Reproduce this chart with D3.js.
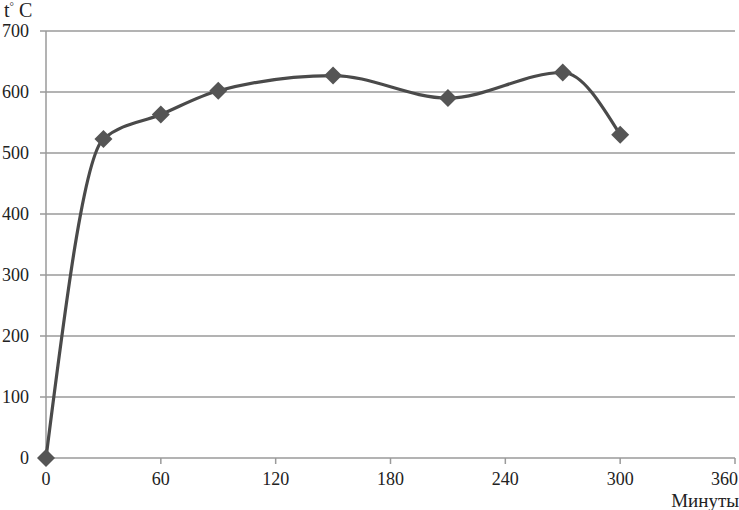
<!DOCTYPE html>
<html>
<head>
<meta charset="utf-8">
<script src="https://cdn.jsdelivr.net/npm/d3@7"></script>
<style>
  body { margin: 0; background: #fff; }
  svg { display: block; }
</style>
</head>
<body>
<div id="chart"></div>
<script>
// data
var minutes = [0, 30, 60, 90, 150, 210, 270, 300];
var temps = [0, 523, 563, 602, 627, 590, 632, 530];
var xTicks = [0, 60, 120, 180, 240, 300, 360];
var yTicks = [0, 100, 200, 300, 400, 500, 600, 700];

var width = 739, height = 510;
var margin = {left: 46, right: 4, top: 31, bottom: 52};

var svg = d3.select("#chart").append("svg")
  .attr("width", width)
  .attr("height", height)
  .attr("font-family", "'Liberation Serif', 'Times New Roman', serif")
  .attr("font-size", 18)
  .attr("fill", "#222");

var x = d3.scaleLinear().domain([0, 360]).range([margin.left, width - margin.right]);
var y = d3.scaleLinear().domain([0, 700]).range([height - margin.bottom, margin.top]);

// horizontal gridlines with outward ticks
svg.append("g").selectAll("line")
  .data(yTicks)
  .enter().append("line")
  .attr("x1", margin.left - 6)
  .attr("x2", width - margin.right)
  .attr("y1", function(d) { return y(d); })
  .attr("y2", function(d) { return y(d); })
  .attr("stroke", "#9a9a9a")
  .attr("stroke-width", 1.5);

// y axis line
svg.append("line")
  .attr("x1", x(0)).attr("x2", x(0))
  .attr("y1", y(700)).attr("y2", y(0))
  .attr("stroke", "#9a9a9a")
  .attr("stroke-width", 1.5);

// x tick marks
svg.append("g").selectAll("line")
  .data(xTicks)
  .enter().append("line")
  .attr("x1", function(d) { return x(d); })
  .attr("x2", function(d) { return x(d); })
  .attr("y1", y(0))
  .attr("y2", y(0) + 6)
  .attr("stroke", "#9a9a9a")
  .attr("stroke-width", 1.5);

// y labels
svg.append("g").selectAll("text")
  .data(yTicks)
  .enter().append("text")
  .attr("x", margin.left - 17)
  .attr("y", function(d) { return y(d) + 6; })
  .attr("text-anchor", "end")
  .text(function(d) { return d; });

// x labels (last one kept inside the frame)
svg.append("g").selectAll("text")
  .data(xTicks)
  .enter().append("text")
  .attr("x", function(d, i) { return i === xTicks.length - 1 ? width - 1 : x(d); })
  .attr("y", y(0) + 27)
  .attr("text-anchor", function(d, i) { return i === xTicks.length - 1 ? "end" : "middle"; })
  .text(function(d) { return d; });

// axis titles
svg.append("text")
  .attr("x", width)
  .attr("y", height - 3)
  .attr("text-anchor", "end")
  .attr("font-size", 19)
  .text("Минуты");

var yt = svg.append("text")
  .attr("x", 4)
  .attr("y", 17)
  .attr("font-size", 20);
yt.append("tspan").text("t");
yt.append("tspan").attr("font-size", 11).attr("dy", -7).text("°");
yt.append("tspan").attr("dy", 7).text(" C");

// smooth line
var pts = minutes.map(function(m, i) { return [m, temps[i]]; });
var line = d3.line()
  .x(function(d) { return x(d[0]); })
  .y(function(d) { return y(d[1]); })
  .curve(d3.curveMonotoneX);

svg.append("path")
  .datum(pts)
  .attr("d", line)
  .attr("fill", "none")
  .attr("stroke", "#4a4a4a")
  .attr("stroke-width", 3.2);

// diamond markers
svg.append("g").selectAll("path")
  .data(pts)
  .enter().append("path")
  .attr("transform", function(d) { return "translate(" + x(d[0]) + "," + y(d[1]) + ")"; })
  .attr("d", "M0,-9L9,0L0,9L-9,0Z")
  .attr("fill", "#555");
</script>
</body>
</html>
